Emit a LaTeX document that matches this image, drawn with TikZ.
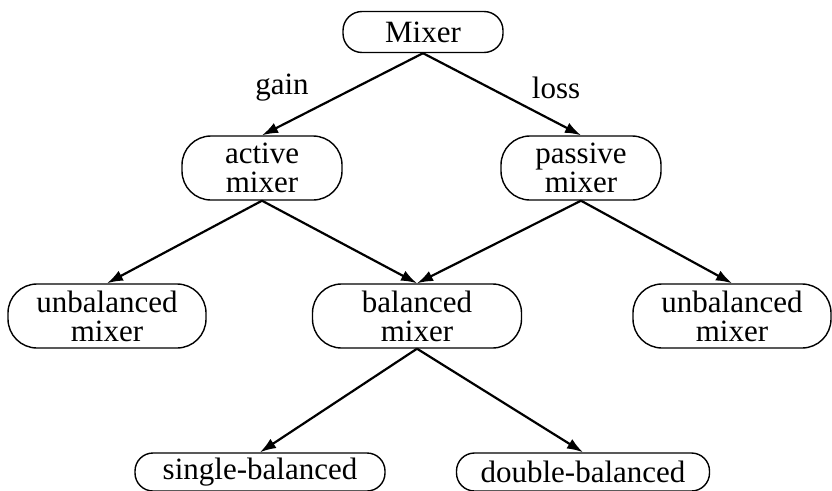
\documentclass[tikz,border=0pt]{standalone}
\usepackage{fontspec}
\setmainfont{Liberation Serif}
\usetikzlibrary{arrows.meta}
\begin{document}
\begin{tikzpicture}[x=1pt,y=-1pt,
  box/.style={draw,line width=1.4pt,rounded corners=29pt,inner sep=0pt,align=center,
    minimum height=64pt,font=\fontsize{31}{32}\selectfont},
  lowbox/.style={box,minimum height=38pt,rounded corners=18pt},
  arr/.style={line width=2.2pt,-{Latex[length=16pt,width=11pt]}},
  lbl/.style={font=\fontsize{31}{32}\selectfont}]
\useasboundingbox (0,0) rectangle (832,490);
\clip (0,0) rectangle (832,490);
\node[box,minimum width=160pt,minimum height=41pt,rounded corners=19pt] (mix) at (423,32) {Mixer};
\node[box,minimum width=160pt] (act) at (262,168) {active\\[-3pt]mixer};
\node[box,minimum width=160pt] (pas) at (581,168) {passive\\[-3pt]mixer};
\node[box,minimum width=198pt] (ubl) at (107,316) {unbalanced\\[-3pt]mixer};
\node[box,minimum width=209pt] (bal) at (417,316) {balanced\\[-3pt]mixer};
\node[box,minimum width=198pt] (ubr) at (732,316) {unbalanced\\[-3pt]mixer};
\node[lowbox,minimum width=250pt] (sgl) at (260,472) {single-balanced};
\node[lowbox,minimum width=253pt] (dbl) at (583,472) {double-balanced};
\draw[arr] (mix.south) -- (act.north);
\draw[arr] (mix.south) -- (pas.north);
\draw[arr] (act.south) -- (ubl.north);
\draw[arr] (act.south) -- (bal.north);
\draw[arr] (pas.south) -- (bal.north);
\draw[arr] (pas.south) -- (ubr.north);
\draw[arr] (bal.south) -- (sgl.north);
\draw[arr] (bal.south) -- (dbl.north);
\node[lbl] (gain) at (282,88) {gain};
\node[lbl] (loss) at (556,88) {loss};
\end{tikzpicture}
\end{document}
